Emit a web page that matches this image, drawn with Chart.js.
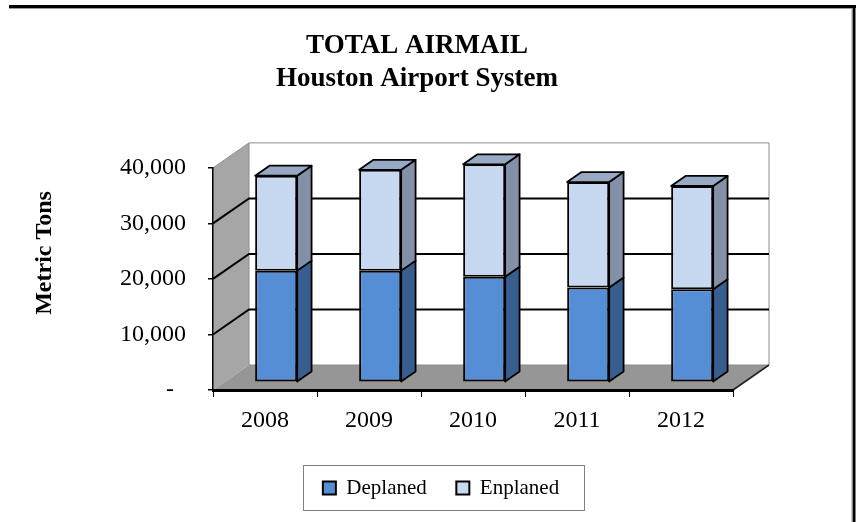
<!DOCTYPE html>
<html><head><meta charset="utf-8">
<script src="https://cdn.jsdelivr.net/npm/chart.js@4.4.1/dist/chart.umd.min.js"></script>
<style>html,body{margin:0;padding:0;background:#fff;overflow:hidden;}</style>
</head><body>
<canvas id="c" width="856" height="522"></canvas>
<script>
// ---- data ----
const categories = ['2008', '2009', '2010', '2011', '2012'];
const deplaned = [20100, 20100, 19000, 17050, 16750];
const enplaned = [17100, 18150, 20250, 19000, 18600];
const seriesNames = ['Deplaned', 'Enplaned'];
const yTicks = [0, 10000, 20000, 30000, 40000];
const titleLines = ['TOTAL AIRMAIL', 'Houston Airport System'];
const yTitle = 'Metric Tons';

// ---- style ----
const SERIF = '"Liberation Serif", "Times New Roman", serif';
const DEP_FRONT = '#558ED5', DEP_SIDE = '#375E8E';
const ENP_FRONT = '#C6D9F1', ENP_SIDE = '#8391A8';
const TOP_FACE = '#98A9C4';
const SIDE_COLORS = [DEP_SIDE, ENP_SIDE];
const WALL = '#A6A6A6', FLOOR = '#969696';
const DEPTH = { dx: 36, dy: -25 };
const BAR_FRONT = 0.31, BAR_DEPTH = 0.40;
const TITLE_CX = 417, LEGEND_CX = 441;

const threeD = {
  id: 'threeD',
  afterLayout(chart) {
    const t = chart.titleBlock;
    if (t) { const s = TITLE_CX - (t.left + t.right) / 2; t.left += s; t.right += s; }
    const l = chart.legend;
    if (l) { const s = LEGEND_CX - (l.left + l.right) / 2; l.left += s; l.right += s; }
  },
  beforeDraw(chart) {
    const ctx = chart.ctx, ys = chart.scales.y, a = chart.chartArea;
    const L = a.left, R = a.right, B = ys.getPixelForValue(yTicks[0]);
    const T = ys.getPixelForValue(yTicks[yTicks.length - 1]);
    const dx = DEPTH.dx, dy = DEPTH.dy;
    ctx.save();
    ctx.fillStyle = '#fff';
    ctx.fillRect(L + dx, T + dy, R - L, B - T);
    ctx.beginPath();
    ctx.moveTo(L, T); ctx.lineTo(L + dx, T + dy); ctx.lineTo(L + dx, B + dy); ctx.lineTo(L, B); ctx.closePath();
    ctx.fillStyle = WALL; ctx.fill();
    ctx.beginPath();
    ctx.moveTo(L, B); ctx.lineTo(L + dx, B + dy); ctx.lineTo(R + dx, B + dy); ctx.lineTo(R, B); ctx.closePath();
    ctx.fillStyle = FLOOR; ctx.fill();
    ctx.strokeStyle = '#8C8C8C'; ctx.lineWidth = 1;
    ctx.beginPath();
    ctx.moveTo(L, T); ctx.lineTo(L + dx, T + dy); ctx.lineTo(R + dx, T + dy); ctx.lineTo(R + dx, B + dy);
    ctx.moveTo(L + dx, T + dy); ctx.lineTo(L + dx, B + dy); ctx.lineTo(R + dx, B + dy);
    ctx.stroke();
    ctx.strokeStyle = '#000'; ctx.lineWidth = 2;
    yTicks.forEach(v => {
      if (v === yTicks[0] || v === yTicks[yTicks.length - 1]) return;
      const yf = ys.getPixelForValue(v);
      ctx.beginPath();
      ctx.moveTo(L, yf); ctx.lineTo(L + dx, yf + dy); ctx.lineTo(R + dx, yf + dy);
      ctx.stroke();
    });
    ctx.strokeStyle = '#222'; ctx.lineWidth = 1.6;
    ctx.beginPath(); ctx.moveTo(R, B); ctx.lineTo(R + dx, B + dy); ctx.stroke();
    ctx.restore();
  },
  beforeDatasetsDraw(chart) {
    chart.ctx.save();
    chart.ctx.translate(DEPTH.dx * BAR_FRONT, DEPTH.dy * BAR_FRONT);
  },
  afterDatasetsDraw(chart) {
    const ctx = chart.ctx;
    ctx.restore();
    const fx = DEPTH.dx * BAR_FRONT, fy = DEPTH.dy * BAR_FRONT;
    const bdx = DEPTH.dx * BAR_DEPTH, bdy = DEPTH.dy * BAR_DEPTH;
    const n = chart.data.datasets.length;
    ctx.save();
    ctx.strokeStyle = '#000'; ctx.lineWidth = 1.8; ctx.lineJoin = 'round';
    for (let di = 0; di < n; di++) {
      const meta = chart.getDatasetMeta(di);
      meta.data.forEach(bar => {
        const p = bar.getProps(['x', 'y', 'base', 'width'], true);
        const Lx = p.x - p.width / 2 + fx, Rx = p.x + p.width / 2 + fx;
        const top = Math.min(p.y, p.base) + fy, bot = Math.max(p.y, p.base) + fy;
        ctx.beginPath();
        ctx.moveTo(Rx, top); ctx.lineTo(Rx + bdx, top + bdy); ctx.lineTo(Rx + bdx, bot + bdy); ctx.lineTo(Rx, bot); ctx.closePath();
        ctx.fillStyle = SIDE_COLORS[di]; ctx.fill(); ctx.stroke();
        if (di === n - 1) {
          ctx.beginPath();
          ctx.moveTo(Lx, top); ctx.lineTo(Lx + bdx, top + bdy); ctx.lineTo(Rx + bdx, top + bdy); ctx.lineTo(Rx, top); ctx.closePath();
          ctx.fillStyle = TOP_FACE; ctx.fill(); ctx.stroke();
        }
      });
    }
    ctx.restore();
  },
  afterDraw(chart) {
    const ctx = chart.ctx, a = chart.chartArea;
    ctx.save();
    ctx.translate(45, (a.top + a.bottom) / 2 - 26);
    ctx.rotate(-Math.PI / 2);
    ctx.font = 'bold 24px ' + SERIF;
    ctx.fillStyle = '#000'; ctx.textAlign = 'center'; ctx.textBaseline = 'middle';
    ctx.fillText(yTitle, 0, 0);
    ctx.restore();
    const hb = chart.legend && chart.legend.legendHitBoxes;
    if (hb && hb.length) {
      const f = hb[0], l = hb[hb.length - 1];
      ctx.save();
      ctx.strokeStyle = '#7F7F7F'; ctx.lineWidth = 1;
      ctx.strokeRect(Math.round(f.left - 20) + 0.5, Math.round(f.top - 12.5) + 0.5,
        Math.round(l.left + l.width + 25 - (f.left - 20)), Math.round(f.height + 24));
      ctx.restore();
    }
    ctx.save();
    ctx.fillStyle = '#000';
    ctx.fillRect(9, 5, 847, 3);
    ctx.fillRect(852.5, 5, 3, 517);
    ctx.fillStyle = '#9A9A9A';
    ctx.fillRect(9, 8, 843, 1);
    ctx.fillRect(851.5, 8, 1, 514);
    ctx.restore();
  }
};

new Chart(document.getElementById('c'), {
  type: 'bar',
  data: {
    labels: categories,
    datasets: [
      { label: seriesNames[0], data: deplaned, backgroundColor: DEP_FRONT, borderColor: '#000', borderWidth: 2, borderSkipped: false, barPercentage: 0.404, categoryPercentage: 1, clip: false },
      { label: seriesNames[1], data: enplaned, backgroundColor: ENP_FRONT, borderColor: '#000', borderWidth: 2, borderSkipped: false, barPercentage: 0.404, categoryPercentage: 1, clip: false }
    ]
  },
  options: {
    responsive: false,
    animation: false,
    devicePixelRatio: 1,
    layout: { padding: { left: 10, right: 123, top: 0, bottom: 13.5 } },
    plugins: {
      title: { display: true, text: titleLines, color: '#000', font: { family: SERIF, size: 27, weight: 'bold', lineHeight: 1.22 }, padding: { top: 30, bottom: 72 } },
      legend: { position: 'bottom', labels: { color: '#000', font: { family: SERIF, size: 21 }, boxWidth: 13, boxHeight: 13, padding: 29.5 } },
      tooltip: { enabled: false }
    },
    scales: {
      x: {
        stacked: true, offset: true,
        grid: { display: true, drawOnChartArea: false, drawTicks: true, tickLength: 7, color: '#000', lineWidth: 1, offset: true },
        border: { display: true, color: '#000', width: 3 },
        ticks: { color: '#000', font: { family: SERIF, size: 24 }, padding: 9, maxRotation: 0, autoSkip: false },
        afterFit(s) { s.height = 58; }
      },
      y: {
        stacked: true, min: yTicks[0], max: yTicks[yTicks.length - 1],
        afterBuildTicks(s) { s.ticks = yTicks.map(v => ({ value: v })); },
        ticks: { color: '#000', font: { family: SERIF, size: 24 }, padding: 22,
          callback: v => v === 0 ? '-  ' : Number(v).toLocaleString('en-US') },
        grid: { display: true, drawOnChartArea: false, drawTicks: true, tickLength: 5, color: '#000', lineWidth: 1.5 },
        border: { display: true, color: '#000', width: 1.5 },
        afterFit(s) { s.width = 203; }
      }
    }
  },
  plugins: [threeD]
});
</script>
</body></html>
